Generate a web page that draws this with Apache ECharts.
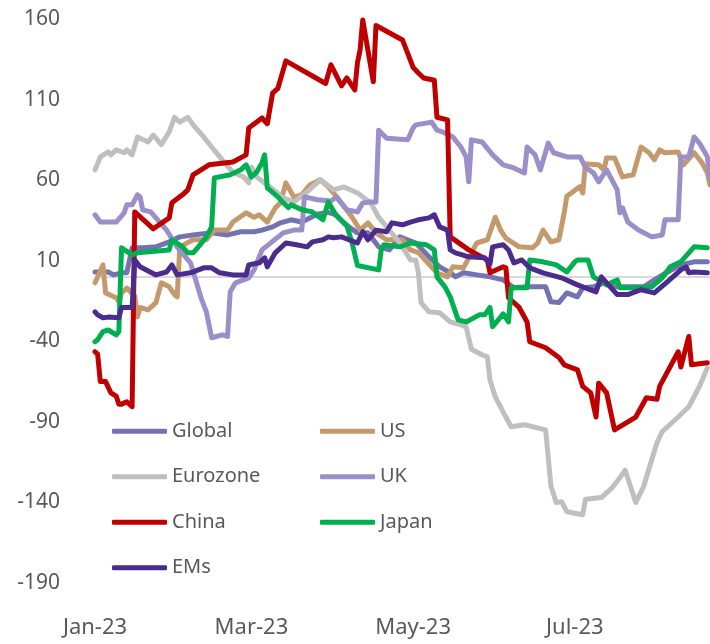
<!DOCTYPE html>
<html>
<head>
<meta charset="utf-8">
<script src="https://cdn.jsdelivr.net/npm/echarts@6/dist/echarts.min.js"></script>
<style>
  html, body { margin: 0; padding: 0; background: #ffffff; }
  #chart { width: 710px; height: 644px; }
</style>
</head>
<body>
<div id="chart"></div>
<script>
// x = days since 1 Jan 2023
const tickDays = [0, 59, 120, 181];
const tickLabels = ['Jan-23', 'Mar-23', 'May-23', 'Jul-23'];
const lastDay = 232;

const seriesNames = ['Global', 'US', 'Eurozone', 'UK', 'China', 'Japan', 'EMs'];

const globalIdx = [[0,3],[5,3],[7,1.2],[10,2.5],[12,2.5],[14,18],[18,18],[23,18.6],[28,21.7],[32,24.8],[37,26],[44,27.3],[50,26],[55,28],[60,28],[63,29],[67,31],[70,33.5],[74,35.4],[78,34],[84,39],[88,40],[91,38.5],[94,33],[99,27.3],[103,27.3],[107,18.6],[111,16.7],[115,24.8],[121,21],[126,12.4],[130,6.2],[134,2.5],[136,0],[139,2.5],[144,1.2],[149,0],[154,-1.9],[158,-6.8],[163,-6.2],[170,-6.2],[172,-15.5],[175,-16],[178,-10],[182,-12.4],[184,-6.8],[188,-6.2],[192,-3.7],[196,-6.2],[201,-6.2],[207,-6.2],[211,-1.9],[216,3],[221,7.4],[226,9.3],[231,9.3]];

const us = [[0,-3.7],[3,7.4],[4,-10],[8,-13],[9,-15.5],[10,-10],[12,-7],[15,-12],[16,-24.8],[17,-19],[20,-20.5],[23,-16],[25,-3.7],[28,-6.2],[30,-11],[31,-12.4],[32,18.6],[37,23],[42,23],[45,29],[50,29],[52,34],[57,39.7],[60,37],[62,38.5],[65,34],[68,42.8],[70,46],[72,58.3],[75,49.6],[78,50.9],[81,57],[85,60.2],[88,55.8],[92,48],[97,37],[100,29],[103,33.5],[106,27.3],[110,23],[116,23],[119,16.7],[122,15],[129,2.5],[133,0],[135,6.2],[139,5.6],[144,21],[148,23],[151,37],[153,29],[155,24],[160,18.6],[165,18],[167,21],[169,29],[172,21.7],[175,23],[177,39.7],[178,50],[183,56],[184,52],[185,70],[190,69.5],[192,66.4],[193,73.8],[196,73.8],[199,62],[203,63.3],[206,80.6],[209,77],[211,72.6],[213,78.8],[215,77],[220,77.5],[222,69.5],[226,77],[229,70.7],[231,64.5],[232,57]];

const eurozone = [[0,66.4],[2,74.4],[5,77.5],[6,75.7],[8,78.8],[11,77],[12,78.8],[14,75.7],[16,86.8],[20,83.7],[22,88],[25,82],[28,90],[30,99],[32,96],[35,99],[37,94.3],[41,86.8],[44,80.6],[48,72.6],[52,65],[56,62],[58,58.3],[59,68],[61,62],[66,55.8],[71,49],[75,46.5],[80,52.7],[85,60.2],[90,54],[94,55.8],[99,52],[104,46],[107,37],[110,31],[115,21],[119,10.5],[121,10.5],[122,2.5],[123,-16],[126,-21.7],[130,-22.3],[134,-28],[138,-29.8],[140,-31],[142,-45],[146,-48.4],[148,-49.6],[149,-64],[151,-74.4],[154,-84],[157,-93],[162,-91.8],[170,-95],[172,-130],[174,-140],[176,-139.6],[178,-145.8],[184,-147.6],[185,-138],[191,-137],[195,-131],[198,-124.7],[200,-120],[204,-140],[207,-130],[210,-113.5],[212,-103],[214,-96],[220,-87],[224,-80.6],[226,-74.4],[228,-68],[231,-56.5]];

const uk = [[0,38.5],[2,34],[8,34],[11,39.7],[12,44.7],[14,44.7],[16,50.9],[17,49.6],[18,41.6],[21,40.3],[23,36.6],[27,29],[31,18.6],[36,8.7],[38,-1.9],[40,-13],[42,-21.7],[44,-37.8],[48,-36],[50,-37],[51,-9.3],[53,-3.7],[58,-0.6],[60,4.3],[63,16.7],[71,27.3],[75,29],[78,29],[79,49.6],[84,47.8],[89,47],[91,49.6],[95,41.6],[99,40.3],[101,45.9],[104,46.5],[106,46.5],[107,91],[110,86],[118,85],[120,92.4],[121,94.3],[127,96],[129,91],[131,90],[135,86.8],[138,80.6],[140,74.4],[141,59],[142,85],[146,83.7],[150,75.7],[154,69.5],[158,67.6],[162,64.5],[163,80.6],[166,75.7],[168,66.4],[171,83],[173,77],[178,74.4],[183,74.4],[185,68],[188,64.5],[190,59],[193,66.4],[197,54],[198,39.7],[199,42.8],[201,34],[205,29],[210,24.8],[214,26],[215,35.4],[220,35.4],[221,74.4],[224,74.4],[226,86.8],[228,83],[230,77.5],[231,74.4],[232,61]];

const china = [[0,-46.5],[1,-48],[2,-65],[4,-65],[6,-72],[8,-74],[9,-79],[10,-79],[12,-77.5],[14,-80.6],[15,40.3],[22,29.8],[28,36.6],[29,45.9],[33,50.9],[35,54],[37,63.3],[43,69.5],[52,71.3],[57,75.7],[58,92.4],[63,98.6],[65,95],[67,114],[69,117],[72,134],[87,120],[89,131.5],[93,118.5],[95,123.4],[98,116],[99,132.8],[100,140.8],[101,159.4],[105,121],[106,156],[116,147],[120,130],[122,126.5],[124,123.4],[128,122],[129,99],[133,97.4],[134,24.8],[141,16.7],[148,10.5],[149,2.5],[154,6.2],[155,5.6],[156,-13],[160,-19],[163,-28],[164,-40.3],[170,-44],[175,-50],[177,-54.6],[182,-57.7],[184,-68],[187,-72],[189,-87],[190,-66],[193,-72],[196,-95],[204,-87],[208,-75],[212,-76],[213,-68],[220,-46.5],[221,-56],[224,-37],[225,-54.6],[231,-53.3]];

const japan = [[0,-40.3],[1,-39],[3,-34],[5,-33],[8,-36],[9,-34],[10,18],[14,13.6],[16,14.9],[28,16.7],[29,23],[33,18.6],[35,14.9],[37,14.9],[39,18.6],[42,24.8],[44,31],[45,61.4],[51,63.3],[55,66.4],[57,69.5],[59,62],[61,65],[63,70.7],[64,75.7],[65,55.2],[69,49.6],[71,46],[73,43],[74,44.7],[78,41.6],[82,40.3],[86,35.4],[88,46.5],[91,38],[95,32],[97,21],[99,7],[107,4.3],[108,17],[109,19.9],[115,18.6],[119,21],[125,19.9],[128,16.7],[129,0],[132,-6.2],[134,-12.4],[137,-26.7],[140,-28],[145,-23.6],[147,-23.6],[149,-19],[150,-31],[154,-23],[156,-28],[157,-6.8],[163,-6.8],[164,10.5],[169,9.3],[174,7.4],[178,3],[181,9.3],[182,10.5],[186,10.5],[188,0],[193,-5],[197,-1.9],[198,-6.8],[204,-6.8],[210,-6.2],[214,-0.6],[217,6.2],[221,9.3],[226,18.6],[231,18]];

const ems = [[0,-21.7],[1,-23.6],[3,-25.4],[5,-25],[9,-25.4],[10,-19],[14,-19],[15,10.5],[17,6.2],[23,1.2],[27,3],[29,7.4],[31,1.2],[36,2.5],[41,5.6],[44,5.6],[47,2.5],[52,1.2],[57,1.2],[58,7.4],[62,8.7],[64,11.8],[65,6.2],[68,14.9],[72,21],[76,19.9],[80,18.6],[82,21.7],[86,23],[88,24.8],[90,24.2],[93,24.8],[99,21],[101,28],[103,23],[106,29],[110,28],[112,33.5],[116,32.3],[119,34],[122,35.4],[126,36.6],[128,38.5],[130,31],[133,29],[134,16.7],[136,14.9],[141,12.4],[147,11.8],[149,8],[150,18.6],[154,19.9],[156,16.7],[158,8.7],[161,10.5],[164,5.6],[169,2.5],[176,-0.6],[182,-5],[189,-9.3],[191,0],[197,-11],[201,-11],[206,-8],[211,-10],[216,-3],[221,4.3],[223,6.2],[224,2.5],[226,3],[231,2.5]];

const seriesData = [globalIdx, us, eurozone, uk, china, japan, ems];
const colors = ['#7373B3', '#C49A6C', '#BFBFBF', '#9A8FC8', '#C00000', '#00B050', '#4B2B8B'];

const chart = echarts.init(document.getElementById('chart'), null, { renderer: 'canvas' });

const FONT = '"Noto Sans", "Open Sans", sans-serif';
const TXT = '#595959';

const series = seriesNames.map((name, i) => {
  const s = {
    name: name,
    type: 'line',
    data: seriesData[i],
    symbol: 'none',
    showSymbol: false,
    smooth: false,
    animation: false,
    z: 2 + i,
    lineStyle: { width: 5, color: colors[i], cap: 'round', join: 'round' },
    itemStyle: { color: colors[i] }
  };
  if (i === 0) {
    s.markLine = {
      silent: true,
      symbol: 'none',
      label: { show: false },
      lineStyle: { color: '#D9D9D9', width: 2, type: 'solid' },
      data: [{ yAxis: 0 }],
      z: 1
    };
  }
  return s;
});

const legendCommon = {
  orient: 'vertical',
  icon: 'roundRect',
  itemWidth: 55,
  itemHeight: 5,
  itemGap: 25,
  padding: 0,
  textStyle: { fontFamily: FONT, fontSize: 20, color: TXT, lineHeight: 20.5 },
  selectedMode: false
};

chart.setOption({
  animation: false,
  backgroundColor: '#ffffff',
  color: colors,
  grid: { left: 95, right: 0, top: 19, bottom: 61, containLabel: false },
  legend: [
    Object.assign({}, legendCommon, { left: 112, top: 421, data: ['Global', 'Eurozone', 'China', 'EMs'] }),
    Object.assign({}, legendCommon, { left: 320, top: 421, data: ['US', 'UK', 'Japan'] })
  ],
  xAxis: {
    type: 'value',
    min: 0,
    max: lastDay,
    axisLine: { show: false },
    axisTick: { show: false },
    splitLine: { show: false },
    axisLabel: {
      customValues: tickDays,
      margin: 34,
      fontFamily: FONT,
      fontSize: 22,
      color: TXT,
      formatter: function (v) {
        const k = tickDays.indexOf(v);
        return k >= 0 ? tickLabels[k] : '';
      }
    }
  },
  yAxis: {
    type: 'value',
    min: -190,
    max: 160,
    interval: 50,
    axisLine: { show: false },
    axisTick: { show: false },
    splitLine: { show: false },
    axisLabel: {
      margin: 35,
      fontFamily: FONT,
      fontSize: 21,
      color: TXT
    }
  },
  series: series
});
</script>
</body>
</html>
